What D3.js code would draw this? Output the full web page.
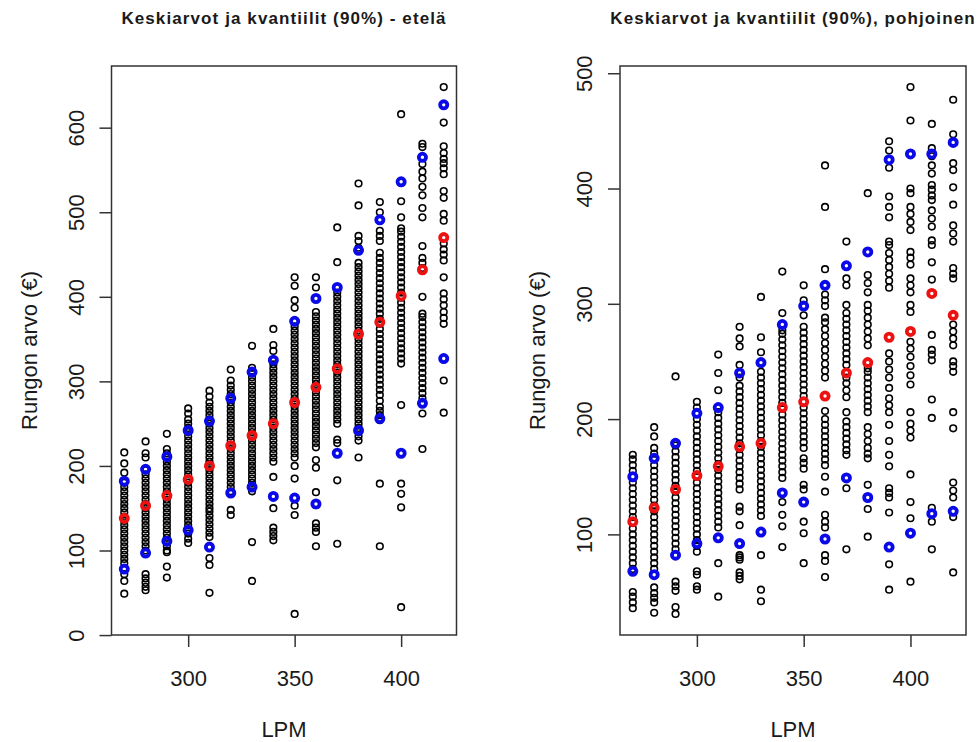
<!DOCTYPE html>
<html>
<head>
<meta charset="utf-8">
<script src="https://d3js.org/d3.v7.min.js"></script>
<style>
  body { margin: 0; background: #ffffff; }
  text { font-family: "Liberation Sans", Arial, Helvetica, sans-serif; fill: #1a1a1a; }
</style>
</head>
<body>
<div id="chart"></div>
<script>

// LPM groups (x values)
var lpm = [270, 280, 290, 300, 310, 320, 330, 340, 350, 360, 370, 380, 390, 400, 410, 420];

var southValues = [
    [49, 64, 72, 85, 90, 95, 100, 105, 110, 115, 120, 125, 130, 135, 140, 145, 150, 155, 160, 165, 170, 175, 180, 192, 203, 216],
    [53, 57, 62, 67, 72, 100, 105, 110, 115, 120, 125, 130, 135, 140, 145, 150, 155, 160, 165, 170, 175, 180, 185, 190, 195, 210, 215, 229],
    [68, 81, 98, 100, 105, 110, 115, 120, 125, 130, 135, 140, 145, 150, 155, 160, 165, 170, 175, 180, 185, 190, 195, 200, 205, 210, 215, 220, 238],
    [109, 114, 120, 125, 130, 135, 140, 145, 150, 155, 160, 165, 170, 175, 180, 185, 190, 195, 200, 205, 210, 215, 220, 225, 230, 235, 240, 245, 250, 255, 262, 268],
    [50, 83, 91, 116, 121, 126, 131, 136, 141, 146, 150, 155, 160, 165, 170, 175, 180, 185, 190, 195, 200, 205, 210, 215, 220, 225, 230, 235, 240, 245, 250, 255, 260, 265, 270, 275, 282, 289],
    [142, 148, 170, 175, 180, 185, 190, 195, 200, 205, 210, 215, 220, 225, 230, 235, 240, 245, 250, 255, 260, 265, 270, 275, 280, 285, 290, 295, 301, 314],
    [64, 110, 170, 175, 180, 185, 190, 195, 200, 205, 210, 215, 220, 225, 230, 235, 240, 245, 250, 255, 260, 265, 270, 275, 280, 285, 290, 295, 300, 305, 310, 316, 342],
    [112, 117, 122, 127, 150, 187, 205, 210, 215, 220, 225, 230, 235, 240, 245, 250, 255, 260, 265, 270, 275, 280, 285, 290, 295, 300, 305, 310, 315, 320, 325, 336, 343, 362],
    [25, 142, 153, 185, 200, 210, 215, 220, 225, 230, 235, 240, 245, 250, 255, 260, 265, 270, 275, 280, 285, 290, 295, 300, 305, 310, 315, 320, 325, 330, 335, 340, 345, 350, 355, 360, 365, 387, 396, 413, 423],
    [105, 122, 127, 132, 169, 198, 207, 222, 227, 232, 237, 242, 247, 252, 257, 262, 267, 272, 277, 282, 287, 292, 297, 302, 307, 312, 317, 322, 327, 332, 337, 342, 347, 352, 357, 362, 367, 372, 377, 382, 411, 423],
    [108, 183, 227, 231, 250, 255, 260, 265, 270, 275, 280, 285, 290, 295, 300, 305, 310, 315, 320, 325, 330, 335, 340, 345, 350, 355, 360, 365, 370, 375, 380, 385, 390, 395, 400, 405, 441, 482],
    [210, 230, 235, 240, 245, 250, 255, 260, 265, 270, 275, 280, 285, 290, 295, 300, 305, 310, 315, 320, 325, 330, 335, 340, 345, 350, 355, 360, 365, 370, 375, 380, 385, 390, 395, 400, 405, 410, 415, 420, 425, 430, 435, 440, 458, 466, 472, 508, 534],
    [105, 179, 254, 260, 265, 270, 277, 284, 290, 296, 302, 308, 314, 320, 326, 332, 338, 344, 350, 356, 362, 368, 374, 380, 386, 392, 398, 404, 410, 416, 422, 428, 434, 440, 446, 452, 466, 472, 478, 500, 512],
    [33, 151, 167, 179, 272, 321, 327, 333, 339, 345, 351, 357, 363, 369, 375, 381, 387, 393, 399, 405, 411, 417, 423, 429, 435, 441, 447, 453, 459, 465, 471, 477, 481, 494, 513, 616],
    [220, 262, 280, 286, 292, 298, 304, 310, 316, 322, 328, 334, 340, 346, 352, 358, 364, 370, 376, 380, 400, 434, 440, 446, 460, 494, 505, 520, 530, 540, 548, 557, 577, 581],
    [263, 301, 368, 375, 382, 390, 397, 404, 423, 443, 450, 456, 463, 490, 498, 517, 525, 545, 552, 558, 563, 570, 578, 606, 648]
];
var southMean = [138, 153, 165, 184, 200, 224, 236, 250, 275, 293, 315, 356, 370, 401, 432, 470];
var southQ05 = [78, 97, 111, 124, 104, 168, 175, 164, 162, 155, 215, 242, 256, 215, 274, 327];
var southQ95 = [182, 196, 211, 242, 253, 280, 311, 325, 371, 398, 411, 455, 491, 536, 565, 627];

// north ("pohjoinen") observations per LPM group
var northValues = [
    [36, 41, 46, 50, 70, 75, 80, 85, 90, 95, 100, 105, 110, 115, 120, 125, 130, 135, 140, 145, 150, 155, 160, 165, 169],
    [32, 41, 45, 49, 54, 65, 70, 75, 80, 85, 90, 95, 100, 105, 110, 115, 120, 125, 130, 135, 140, 145, 150, 155, 160, 165, 170, 175, 185, 193],
    [31, 37, 51, 55, 59, 82, 87, 92, 97, 102, 107, 112, 117, 122, 127, 132, 137, 142, 147, 152, 157, 162, 167, 172, 177, 237],
    [52, 55, 65, 68, 85, 90, 95, 100, 105, 110, 115, 120, 125, 130, 135, 140, 145, 150, 155, 160, 165, 170, 175, 180, 185, 190, 195, 200, 205, 210, 215],
    [46, 75, 106, 111, 116, 121, 126, 131, 136, 141, 146, 151, 156, 161, 166, 171, 176, 181, 186, 191, 196, 201, 206, 225, 240, 256],
    [61, 64, 67, 78, 80, 82, 108, 120, 124, 139, 144, 149, 154, 159, 164, 169, 174, 179, 184, 189, 194, 199, 204, 209, 214, 219, 224, 229, 236, 247, 263, 270, 280],
    [42, 52, 82, 116, 121, 126, 131, 136, 141, 146, 151, 156, 161, 166, 171, 176, 181, 186, 191, 196, 201, 206, 211, 216, 221, 226, 231, 236, 241, 258, 271, 306],
    [89, 107, 117, 128, 149, 154, 159, 164, 169, 174, 179, 184, 189, 194, 199, 204, 209, 214, 219, 224, 229, 234, 239, 244, 249, 254, 259, 264, 269, 274, 277, 292, 328],
    [75, 101, 111, 139, 143, 157, 162, 166, 175, 180, 185, 190, 195, 200, 205, 210, 215, 220, 225, 230, 235, 240, 245, 250, 255, 260, 265, 270, 275, 280, 290, 303, 316],
    [63, 77, 82, 106, 111, 117, 137, 150, 160, 165, 170, 175, 180, 185, 190, 195, 200, 207, 236, 242, 248, 254, 260, 266, 272, 278, 284, 288, 298, 303, 308, 330, 384, 420],
    [87, 140, 169, 173, 178, 183, 188, 193, 198, 206, 219, 225, 231, 236, 247, 252, 257, 262, 267, 272, 277, 282, 287, 292, 299, 316, 322, 354],
    [98, 122, 143, 166, 170, 175, 181, 187, 193, 206, 211, 216, 221, 226, 231, 236, 241, 244, 264, 270, 276, 282, 288, 294, 299, 310, 318, 325, 396],
    [52, 74, 119, 132, 136, 140, 159, 169, 181, 195, 206, 212, 218, 227, 236, 243, 250, 257, 314, 320, 326, 332, 338, 344, 351, 354, 375, 384, 393, 418, 433, 441],
    [59, 114, 128, 152, 184, 190, 196, 206, 230, 238, 246, 254, 261, 267, 293, 299, 310, 316, 322, 334, 340, 345, 364, 371, 378, 384, 396, 400, 459, 488],
    [87, 111, 123, 201, 217, 251, 256, 260, 273, 321, 336, 351, 355, 367, 374, 381, 390, 394, 399, 403, 413, 420, 428, 435, 456],
    [67, 115, 132, 138, 145, 192, 206, 241, 246, 250, 264, 270, 276, 282, 322, 326, 331, 354, 361, 368, 386, 401, 416, 422, 447, 477]
];
var northMean = [111, 123, 139, 151, 159, 176, 179, 210, 215, 220, 240, 249, 271, 276, 309, 290];
var northQ05 = [68, 65, 82, 92, 97, 92, 102, 136, 128, 96, 149, 132, 89, 101, 118, 120];
var northQ95 = [150, 166, 179, 205, 210, 240, 249, 282, 298, 316, 333, 345, 425, 430, 430, 440];

// tick labels
var xTicks = [300, 350, 400];
var southYTicks = [0, 100, 200, 300, 400, 500, 600];
var northYTicks = [100, 200, 300, 400, 500];

var width = 979;
var height = 742;

var svg = d3.select("#chart")
    .append("svg")
    .attr("width", width)
    .attr("height", height)
    .style("background", "#ffffff");

// R style range: data extent widened by 4% on each side
function rRange(values) {
    var ext = d3.extent(values);
    var pad = (ext[1] - ext[0]) * 0.04;
    return [ext[0] - pad, ext[1] + pad];
}

function drawPanel(p) {

    var top = 66, bottom = 635;

    var x = d3.scaleLinear()
        .domain(rRange(lpm))
        .range([p.left, p.right]);

    var allValues = d3.merge(p.values);
    var y = d3.scaleLinear()
        .domain(rRange(allValues))
        .range([bottom, top]);

    var g = svg.append("g");

    // title
    g.append("text")
        .attr("x", (p.left + p.right) / 2)
        .attr("y", 24)
        .attr("text-anchor", "middle")
        .style("font-size", "17px")
        .style("font-weight", "bold")
        .style("letter-spacing", "1.1px")
        .text(p.title);

    // x axis
    var xAxis = g.append("g")
        .attr("transform", "translate(0," + bottom + ")")
        .call(d3.axisBottom(x).tickValues(xTicks).tickSize(12).tickFormat(d3.format("d")));
    xAxis.select(".domain").remove();
    xAxis.selectAll("line").attr("stroke", "#333").attr("stroke-width", 1.5);
    xAxis.selectAll("text")
        .attr("y", 51)
        .attr("dy", 0)
        .attr("fill", "#1a1a1a")
        .style("font-size", "22px")
        .style("font-family", "'Liberation Sans', Arial, sans-serif");

    // y axis, labels turned like R does
    var yAxis = g.append("g")
        .attr("transform", "translate(" + p.left + ",0)")
        .call(d3.axisLeft(y).tickValues(p.yTicks).tickSize(12).tickFormat(d3.format("d")));
    yAxis.select(".domain").remove();
    yAxis.selectAll("line").attr("stroke", "#333").attr("stroke-width", 1.5);
    yAxis.selectAll("text")
        .attr("x", 0)
        .attr("y", -28)
        .attr("dy", 0)
        .attr("transform", "rotate(-90)")
        .attr("text-anchor", "middle")
        .attr("fill", "#1a1a1a")
        .style("font-size", "22px")
        .style("font-family", "'Liberation Sans', Arial, sans-serif");

    // axis titles
    g.append("text")
        .attr("x", (p.left + p.right) / 2)
        .attr("y", 737)
        .attr("text-anchor", "middle")
        .style("font-size", "22px")
        .text("LPM");

    g.append("text")
        .attr("transform", "translate(" + (p.left - 75) + "," + ((top + bottom) / 2) + ")rotate(-90)")
        .attr("text-anchor", "middle")
        .style("font-size", "22px")
        .text("Rungon arvo (€)");

    // all observations as open circles
    var obs = [];
    p.values.forEach(function(list, i) {
        list.forEach(function(v) {
            obs.push({lpm: lpm[i], value: v});
        });
    });

    g.append("g")
        .selectAll("circle")
        .data(obs)
        .enter()
        .append("circle")
        .attr("cx", d => x(d.lpm))
        .attr("cy", d => y(d.value))
        .attr("r", 3.3)
        .attr("fill", "none")
        .attr("stroke", "#000")
        .attr("stroke-width", 1.6);

    // quantiles (blue) and means (red)
    var marks = [
        {values: p.q05, color: "#0a0ae8"},
        {values: p.q95, color: "#0a0ae8"},
        {values: p.mean, color: "#ec1212"}
    ];

    marks.forEach(function(m) {
        g.append("g")
            .selectAll("circle")
            .data(m.values)
            .enter()
            .append("circle")
            .attr("cx", (d, i) => x(lpm[i]))
            .attr("cy", d => y(d))
            .attr("r", 3.6)
            .attr("fill", "none")
            .attr("stroke", m.color)
            .attr("stroke-width", 3.8);
    });

    // plot frame
    g.append("rect")
        .attr("x", p.left)
        .attr("y", top)
        .attr("width", p.right - p.left)
        .attr("height", bottom - top)
        .attr("fill", "none")
        .attr("stroke", "#333")
        .attr("stroke-width", 1.5);
}

drawPanel({
    title: "Keskiarvot ja kvantiilit (90%) - etelä",
    left: 111.5,
    right: 456.5,
    values: southValues,
    mean: southMean,
    q05: southQ05,
    q95: southQ95,
    yTicks: southYTicks
});

drawPanel({
    title: "Keskiarvot ja kvantiilit (90%), pohjoinen",
    left: 620,
    right: 966,
    values: northValues,
    mean: northMean,
    q05: northQ05,
    q95: northQ95,
    yTicks: northYTicks
});

</script>
</body>
</html>
